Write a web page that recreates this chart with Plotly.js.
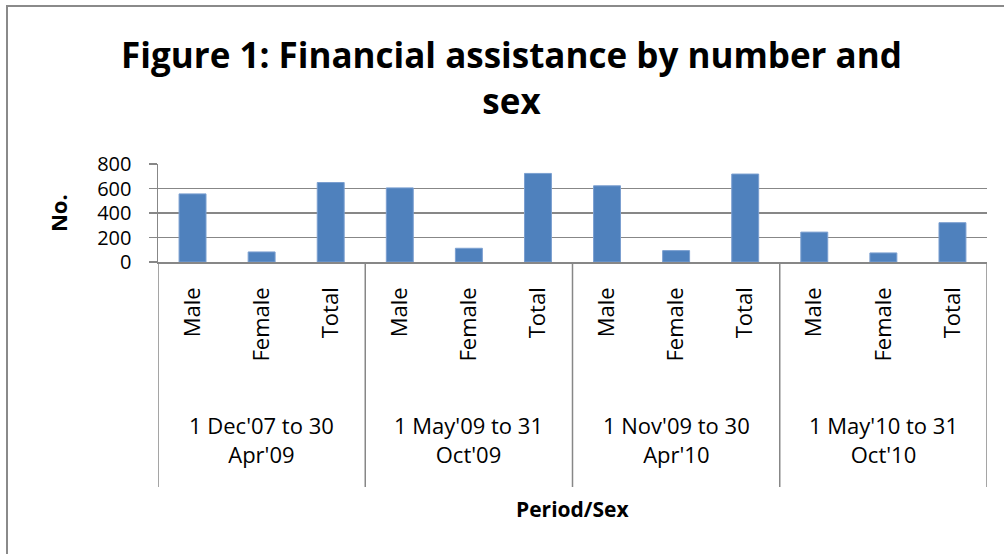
<!DOCTYPE html>
<html>
<head>
<meta charset="utf-8">
<script src="https://cdn.plot.ly/plotly-3.0.1.min.js"></script>
<style>
html,body{margin:0;padding:0;background:#fff;}
#wrap{position:relative;width:1004px;height:554px;overflow:hidden;}
#chart{width:1004px;height:554px;}
#frame{position:absolute;left:6px;top:5px;width:1100px;height:700px;border-left:2.5px solid #8a8a8a;border-top:2.5px solid #8a8a8a;pointer-events:none;}
</style>
</head>
<body>
<div id="wrap"><div id="chart"></div><div id="frame"></div></div>
<script>
// Data
const periods = ["1 Dec'07 to 30<br>Apr'09", "1 May'09 to 31<br>Oct'09", "1 Nov'09 to 30<br>Apr'10", "1 May'10 to 31<br>Oct'10"];
const sexes = ["Male", "Female", "Total"];
const values = [556, 82, 649, 605, 112, 723, 622, 93, 718, 244, 74, 321];
const yTicks = [0, 200, 400, 600, 800];

const n = periods.length * sexes.length;
const xIdx = values.map((v, i) => i);
const tickText = xIdx.map(i => sexes[i % sexes.length]);

const grey = '#878787';
const trace = {
  type: 'bar',
  x: xIdx,
  y: values,
  marker: {color: '#4F81BD', line: {color: '#7b9fd0', width: 1}},
  hoverinfo: 'y'
};

const shapes = [];
// group dividers
for (let g = 0; g <= periods.length; g++) {
  shapes.push({type: 'line', xref: 'x', yref: 'paper', x0: g * sexes.length - 0.5, x1: g * sexes.length - 0.5, y0: 0, y1: -2.296, line: {color: grey, width: 1.5}});
}

const annotations = periods.map((p, g) => ({
  x: g * sexes.length + (sexes.length - 1) / 2, xref: 'x',
  y: -1.816, yref: 'paper', yanchor: 'middle', xanchor: 'center',
  text: p, showarrow: false, align: 'center',
  font: {family: 'Open Sans', size: 22, color: '#000'}
}));
annotations.push({
  x: -0.1206, xref: 'paper', y: 0.5, yref: 'paper', textangle: -90,
  text: '<b>No.</b>', showarrow: false, xanchor: 'center', yanchor: 'middle',
  font: {family: 'Open Sans', size: 22, color: '#000'}
});
annotations.push({
  x: 0.5, xref: 'paper', y: (262 - 509) / 98, yref: 'paper',
  text: '<b>Period/Sex</b>', showarrow: false, xanchor: 'center', yanchor: 'middle',
  font: {family: 'Open Sans', size: 21, color: '#000'}
});

const layout = {
  width: 1004, height: 554,
  margin: {l: 158, r: 17, t: 164, b: 292, pad: 0},
  paper_bgcolor: '#fff', plot_bgcolor: '#fff',
  showlegend: false,
  bargap: 0.61,
  title: {
    text: '<b>Figure 1: Financial assistance by number and<br>sex</b>',
    x: 511.5 / 1004, xref: 'container', xanchor: 'center',
    y: 1 - 68 / 554, yref: 'container', yanchor: 'top',
    font: {family: 'Open Sans', size: 35, color: '#000'}
  },
  xaxis: {
    type: 'linear', range: [-0.5, n - 0.5],
    tickmode: 'array', tickvals: xIdx, ticktext: tickText,
    tickangle: -90, ticks: '', showgrid: false, zeroline: false,
    showline: true, linecolor: grey, linewidth: 1.5,
    ticklabelstandoff: 15,
    tickfont: {family: 'Open Sans', size: 22, color: '#000'},
    fixedrange: true
  },
  yaxis: {
    range: [0, 800], tickmode: 'array', tickvals: yTicks,
    ticks: 'outside', ticklen: 8, tickcolor: grey, tickwidth: 1.5,
    showgrid: true, gridcolor: grey, gridwidth: 1.5,
    zeroline: false, showline: true, linecolor: grey, linewidth: 1.5,
    ticklabelstandoff: 13,
    tickfont: {family: 'Open Sans', size: 20, color: '#000'},
    fixedrange: true
  },
  shapes: shapes,
  annotations: annotations
};

Plotly.newPlot('chart', [trace], layout, {displayModeBar: false, staticPlot: true});
</script>
</body>
</html>
